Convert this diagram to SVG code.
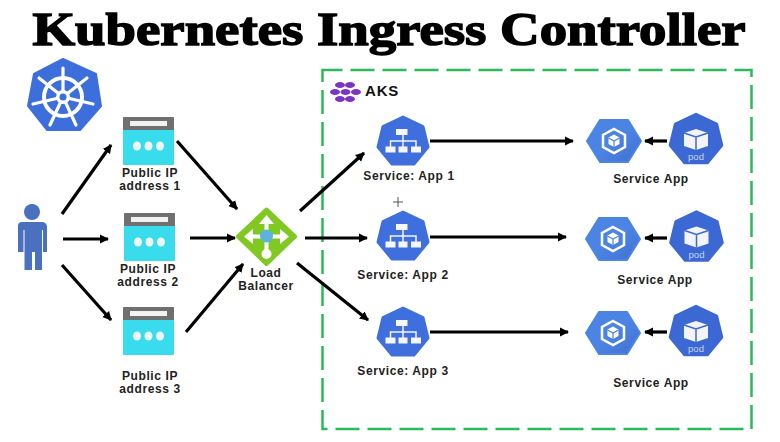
<svg xmlns="http://www.w3.org/2000/svg" width="780" height="442" viewBox="0 0 780 442">
<defs>
<marker id="a" markerUnits="userSpaceOnUse" markerWidth="10" markerHeight="10" refX="8" refY="5" orient="auto"><path d="M0 .5L9 5L0 9.500z" fill="#000"/></marker>
<polygon id="hept" points="0,-24 20,-14.500 25,6 11,23 -11,23 -25,6 -20,-14.500" stroke-width="3" stroke-linejoin="round"/>
<linearGradient id="ag" x1="0" y1="0" x2="1" y2="1"><stop offset="0.500" stop-color="#4c84e4"/><stop offset="1" stop-color="#3f70d0"/></linearGradient>
<g id="pip"><rect x="-25.500" y="-25" width="51" height="48" rx="1" fill="#38dcec"/><path d="M-25.500-12v-12q0-1 1-1h49q1 0 1 1v12z" fill="#707070"/><rect x="-18.500" y="-21" width="37" height="5" fill="#f2f2f2"/><ellipse cx="-11.500" cy="4" rx="4" ry="4.500" fill="#eef6f8"/><ellipse cx="0" cy="4" rx="4" ry="4.500" fill="#eef6f8"/><ellipse cx="11.500" cy="4" rx="4" ry="4.500" fill="#eef6f8"/></g>
<g id="svc"><use href="#hept" fill="#3f6fdc" stroke="#3f6fdc"/><g fill="#f4f6fb"><rect x="-7" y="-12" width="11.500" height="6"/><rect x="-17.500" y="5.500" width="10" height="6"/><rect x="-4.500" y="5.500" width="9" height="6"/><rect x="8" y="5.500" width="10" height="6"/></g><path d="M0-6V6M-12.500 6V0H13V6" fill="none" stroke="#f4f6fb" stroke-width="1.500"/></g>
<g id="app"><polygon points="-27,0 -14,-21 14,-21 27,0 14,21 -14,21" fill="url(#ag)" stroke="#4c84e4" stroke-width="2" stroke-linejoin="round"/><polygon points="0,-12 11,-6 11,6 0,12 -11,6 -11,-6" fill="none" stroke="#fff" stroke-width="2.500"/><path d="M0-6.500L5.500-3.500V3L0 6L-5.500 3V-3.500z" fill="#fff"/><path d="M-5.500-3L0 0L5.500-3M0 0V6" fill="none" stroke="#4c84e4" stroke-width="1.200"/></g>
<g id="pod"><use href="#hept" fill="#3c68d4" stroke="#3c68d4" transform="scale(1.03)"/><path d="M0-10L12-6V7L0 11L-12 7V-6z" fill="#f2f4f8"/><path d="M0-2V11M-12-6L0-2L12-6" fill="none" stroke="#3c68d4" stroke-width="1.500"/><text x="0" y="21" text-anchor="middle" font-family="Liberation Sans,sans-serif" font-size="9.500" fill="#c4d4f4">pod</text></g>
</defs>
<style>
.t{font-family:"Liberation Sans",Arial,sans-serif;font-weight:700;font-size:12px;letter-spacing:.6px;fill:#222;text-anchor:middle}
.c line{stroke:#000;stroke-width:3.200;marker-end:url(#a)}
</style>
<rect width="780" height="442" fill="#fff"/>
<text id="title" x="389" y="45" text-anchor="middle" font-family="Liberation Serif,serif" font-weight="700" font-size="47" textLength="713" lengthAdjust="spacingAndGlyphs" stroke="#000" stroke-width="1.500">Kubernetes Ingress Controller</text>
<rect id="aks-box" x="322.500" y="70" width="429" height="359" fill="none" stroke="#28bb58" stroke-width="2.500" stroke-dasharray="24 8" stroke-dashoffset="4"/>
<g id="k8s"><polygon points="63,59 96,74 101,106 80,130 47,130 28,106 34,74" fill="#3c6edc" stroke="#3c6edc" stroke-width="2" stroke-linejoin="round"/><g fill="none" stroke="#fff"><circle cx="63" cy="97" r="19" stroke-width="4"/><path d="M63 97V68M63 97L87 78M63 97L93 104M63 97L76 125M63 97L50 125M63 97L33 104M63 97L39 78" stroke-width="3.200" stroke-linecap="round"/></g><circle cx="63" cy="97" r="7" fill="#fff"/><circle cx="63" cy="97" r="3.500" fill="#3c6edc"/></g>
<g id="user"><circle cx="32" cy="212" r="8" fill="#4a70c0"/><path d="M18 226q0-4 4-4h20q4 0 5 4v26h-4v-22h-1v22v18h-7v-18h-3v18h-7.500v-18v-22h-1v22h-5.500z" fill="#4a70c0"/></g>
<g id="ip1"><use href="#pip" transform="translate(148.500 142)"/><text class="t" x="150" y="177">Public IP</text><text class="t" x="150" y="190">address 1</text></g>
<g id="ip2"><use href="#pip" transform="translate(149.500 238)"/><text class="t" x="148" y="273">Public IP</text><text class="t" x="148" y="286">address 2</text></g>
<g id="ip3"><use href="#pip" transform="translate(148.500 332)"/><text class="t" x="150" y="380">Public IP</text><text class="t" x="150" y="393">address 3</text></g>
<g id="lb"><polygon points="266.500,209.500 295,236.500 266.500,264 238,236.500" fill="#80c822" stroke="#80c822" stroke-width="4" stroke-linejoin="round"/><path d="M266.500 222V252M252 236.500H281" fill="none" stroke="#fff" stroke-width="4"/><path d="M266.500 215L274 224H259zM244 236.500L253 229V244zM289 236.500L280 229V244z" fill="#fff"/><circle cx="266.500" cy="254" r="5" fill="#fff"/><circle cx="266.500" cy="236" r="6.500" fill="#5db3dc"/><text class="t" x="266" y="277">Load</text><text class="t" x="266" y="290">Balancer</text></g>
<g id="aks"><g fill="#7b35c4"><ellipse cx="340" cy="85" rx="5" ry="3"/><ellipse cx="350" cy="85" rx="5" ry="3"/><ellipse cx="335" cy="92" rx="5" ry="3"/><ellipse cx="345.500" cy="92" rx="5" ry="3"/><ellipse cx="356" cy="92" rx="5" ry="3"/><ellipse cx="340" cy="99" rx="5" ry="3"/><ellipse cx="350" cy="99" rx="5" ry="3"/></g><text x="365" y="96" font-family="Liberation Sans,sans-serif" font-weight="700" font-size="15" letter-spacing=".8" fill="#111">AKS</text></g>
<g id="svc1"><use href="#svc" transform="translate(403 141)"/><text class="t" x="409" y="180">Service: App 1</text></g>
<g id="svc2"><use href="#svc" transform="translate(403 236)"/><text class="t" x="403" y="279">Service: App 2</text></g>
<g id="svc3"><use href="#svc" transform="translate(403 332)"/><text class="t" x="403" y="375">Service: App 3</text></g>
<g id="app1"><use href="#app" transform="translate(614 141)"/><use href="#pod" transform="translate(696 139)"/><text class="t" x="651" y="183">Service App</text></g>
<g id="app2"><use href="#app" transform="translate(613 239)"/><use href="#pod" transform="translate(696.500 236.500)"/><text class="t" x="655" y="284">Service App</text></g>
<g id="app3"><use href="#app" transform="translate(613 333)"/><use href="#pod" transform="translate(696 331)"/><text class="t" x="651" y="387">Service App</text></g>
<path id="cursor" d="M398 197V207M393 202H403" stroke="#555" stroke-width="1"/>
<g id="connectors" class="c">
<line x1="62" y1="214" x2="111" y2="145"/><line x1="63" y1="239" x2="108" y2="239"/><line x1="62" y1="265" x2="111" y2="320"/>
<line x1="177" y1="141" x2="237" y2="209"/><line x1="190" y1="238" x2="235" y2="238"/><line x1="186" y1="332" x2="243" y2="264"/>
<line x1="300" y1="211" x2="364" y2="153"/><line x1="305" y1="238" x2="367" y2="238"/><line x1="297" y1="263" x2="368" y2="320"/>
<line x1="430" y1="141" x2="573" y2="141"/><line x1="430" y1="237" x2="566" y2="237"/><line x1="430" y1="332" x2="568" y2="332"/>
<line x1="667" y1="141" x2="645" y2="141"/><line x1="667" y1="238" x2="645" y2="238"/><line x1="667" y1="332" x2="645" y2="332"/>
</g>
</svg>
